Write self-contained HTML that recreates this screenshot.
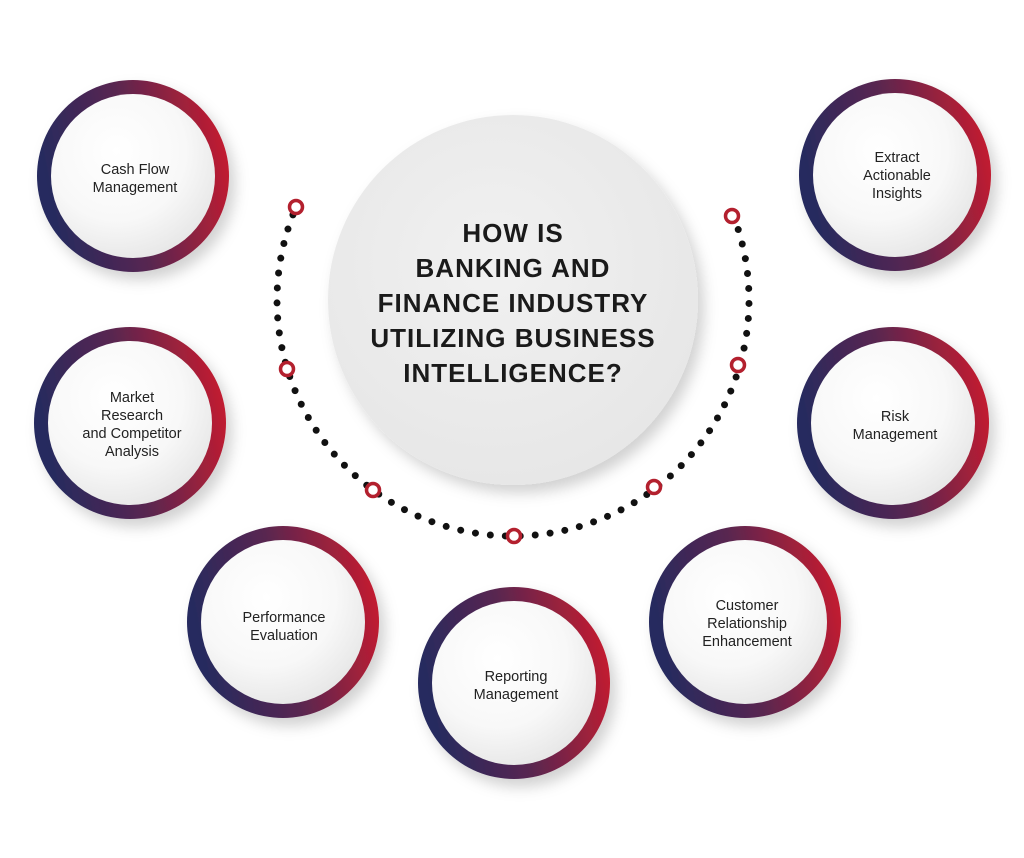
<!DOCTYPE html>
<html><head><meta charset="utf-8"><style>
html,body{margin:0;padding:0;background:#fff;}
svg{display:block;}
text{font-family:"Liberation Sans",Arial,sans-serif;}
</style></head><body>
<svg width="1024" height="858" viewBox="0 0 1024 858" xmlns="http://www.w3.org/2000/svg">
<defs>
<linearGradient id="ring" x1="0" y1="0.3" x2="1" y2="0.1">
<stop offset="0" stop-color="#262a5e"/>
<stop offset="0.45" stop-color="#5a2650"/>
<stop offset="1" stop-color="#d01c2c"/>
</linearGradient>
<radialGradient id="inner" cx="0.4" cy="0.35" r="0.7">
<stop offset="0" stop-color="#ffffff"/>
<stop offset="0.6" stop-color="#f8f8f8"/>
<stop offset="1" stop-color="#e6e6e6"/>
</radialGradient>
<radialGradient id="center" cx="0.45" cy="0.4" r="0.65">
<stop offset="0" stop-color="#f1f1f1"/>
<stop offset="1" stop-color="#e6e6e6"/>
</radialGradient>
<filter id="sh" x="-20%" y="-20%" width="150%" height="150%">
<feDropShadow dx="6" dy="8" stdDeviation="7" flood-color="#000" flood-opacity="0.18"/>
</filter>
<g id="node">
<circle r="96" fill="url(#ring)" filter="url(#sh)"/>
<circle r="82" fill="url(#inner)"/>
</g>
</defs>

<circle cx="513" cy="300" r="185" fill="url(#center)" filter="url(#sh)"/>

<path d="M 733.3 215.4 A 236 236 0 1 1 295.8 207.8" fill="none" stroke="#111" stroke-width="7" stroke-linecap="round" stroke-dasharray="0 15"/>
<g fill="#fff" stroke="#b3202e" stroke-width="3.5">
<circle cx="296" cy="207" r="6.5"/>
<circle cx="287" cy="369" r="6.5"/>
<circle cx="373" cy="490" r="6.5"/>
<circle cx="514" cy="536" r="6.5"/>
<circle cx="654" cy="487" r="6.5"/>
<circle cx="738" cy="365" r="6.5"/>
<circle cx="732" cy="216" r="6.5"/>
</g>

<g font-weight="bold" font-size="26" fill="#1a1a1a" text-anchor="middle" letter-spacing="1">
<text x="513" y="242">HOW IS</text>
<text x="513" y="277">BANKING AND</text>
<text x="513" y="312">FINANCE INDUSTRY</text>
<text x="513" y="347">UTILIZING BUSINESS</text>
<text x="513" y="382">INTELLIGENCE?</text>
</g>

<use href="#node" x="133" y="176"/>
<use href="#node" x="130" y="423"/>
<use href="#node" x="283" y="622"/>
<use href="#node" x="514" y="683"/>
<use href="#node" x="745" y="622"/>
<use href="#node" x="893" y="423"/>
<use href="#node" x="895" y="175"/>

<g font-size="14.5" fill="#222" text-anchor="middle">
<text x="135" y="174">Cash Flow</text>
<text x="135" y="192">Management</text>
<text x="132" y="402">Market</text>
<text x="132" y="420">Research</text>
<text x="132" y="438">and Competitor</text>
<text x="132" y="456">Analysis</text>
<text x="284" y="622">Performance</text>
<text x="284" y="640">Evaluation</text>
<text x="516" y="681">Reporting</text>
<text x="516" y="699">Management</text>
<text x="747" y="610">Customer</text>
<text x="747" y="628">Relationship</text>
<text x="747" y="646">Enhancement</text>
<text x="895" y="421">Risk</text>
<text x="895" y="439">Management</text>
<text x="897" y="162">Extract</text>
<text x="897" y="180">Actionable</text>
<text x="897" y="198">Insights</text>
</g>
</svg>
</body></html>
